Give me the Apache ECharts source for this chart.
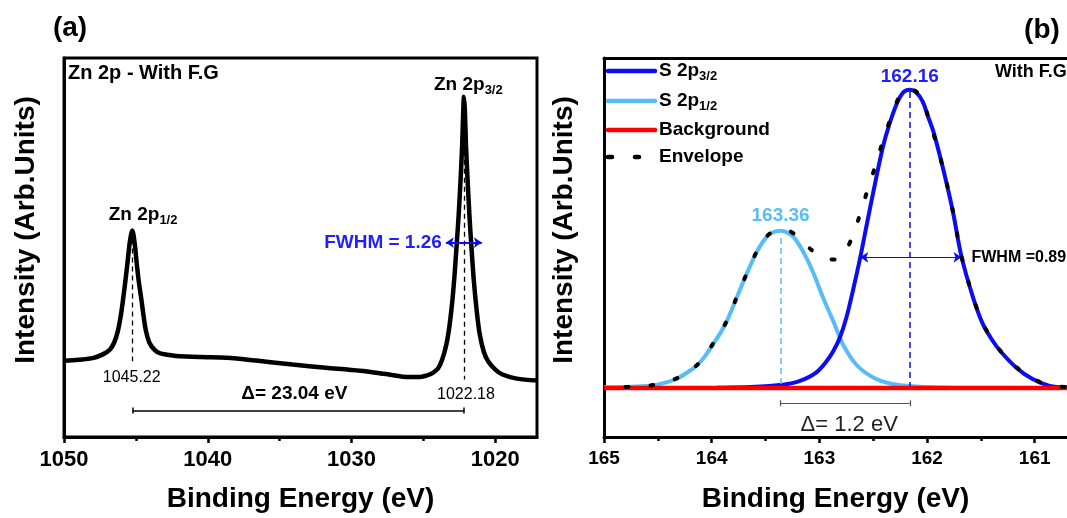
<!DOCTYPE html>
<html><head><meta charset="utf-8">
<script src="https://cdn.jsdelivr.net/npm/echarts@6/dist/echarts.min.js"></script>
<style>html,body{margin:0;padding:0;background:#fff}#c{width:1067px;height:518px}</style>
</head><body><div id="c"></div>
<script>
// ---------- Panel (a): Zn 2p spectrum [binding energy (eV), intensity (a.u.)] ----------
const znSpectrum = [
  [1050.0, 20.1],[1049.0, 20.4],[1048.0, 20.8],[1047.3, 21.8],[1046.8, 23.1],[1046.5, 25.0],
  [1046.25, 28.0],[1046.05, 32.0],[1045.88, 36.6],[1045.72, 41.5],[1045.56, 46.8],[1045.42, 51.5],
  [1045.25, 54.5],[1045.08, 51.0],[1044.93, 45.4],[1044.78, 40.5],[1044.63, 36.6],[1044.46, 31.8],
  [1044.3, 28.0],[1044.05, 24.8],[1043.7, 23.0],[1043.33, 22.1],[1042.8, 21.7],[1042.2, 21.4],
  [1040.5, 21.1],[1038.7, 20.9],[1036.5, 20.1],[1034.1, 19.1],[1031.8, 18.3],[1029.4, 17.5],
  [1027.6, 16.6],[1026.0, 15.8],[1025.3, 15.8],[1024.8, 16.2],[1024.4, 16.8],[1024.0, 18.0],
  [1023.7, 20.4],[1023.4, 24.5],[1023.2, 29.0],[1023.0, 35.5],[1022.85, 42.0],[1022.7, 50.0],
  [1022.55, 58.5],[1022.42, 67.5],[1022.3, 77.5],[1022.23, 86.0],[1022.18, 89.8],[1022.12, 86.5],
  [1022.04, 77.0],[1021.93, 68.0],[1021.8, 58.5],[1021.65, 49.5],[1021.5, 41.5],[1021.3, 33.5],
  [1021.1, 27.5],[1020.8, 22.5],[1020.5, 20.0],[1020.0, 17.8],[1019.5, 16.5],[1018.5, 15.4],[1017.1, 14.9]
];
const znPeaks = [1045.22, 1022.18];
const znPeakHeights = [54.5, 89.8];
const znPeakFoot = [20.0, 15.2];
const znDeltaText = 'Δ= 23.04 eV';
const znFWHMText = 'FWHM = 1.26';
const znFWHMEnds = [1023.44, 1020.94];
const znFWHMLevel = 51.3;
const znRange = [1017.1, 1050];
const znTicks = [1050, 1040, 1030, 1020];
const znMinorTicks = [1045, 1035, 1025];

// ---------- Panel (b): S 2p fit ----------
const s2p32 = [
  [164.3, 12.9],[163.95, 13.0],[163.64, 13.2],[163.34, 13.8],[163.18, 14.8],[163.03, 17.0],
  [162.93, 20.1],[162.87, 22.7],[162.81, 26.2],[162.75, 31.4],[162.69, 38.4],[162.62, 47.4],
  [162.56, 56.0],[162.50, 64.5],[162.41, 76.5],[162.35, 82.5],[162.28, 88.0],[162.22, 90.9],
  [162.16, 91.6],[162.10, 90.9],[162.04, 88.5],[161.99, 84.5],[161.94, 80.5],[161.85, 70.7],
  [161.76, 59.5],[161.68, 47.6],[161.57, 36.6],[161.48, 29.7],[161.40, 25.8],[161.32, 22.7],
  [161.17, 18.3],[161.02, 15.3],[160.86, 13.5],[160.70, 13.1]
];
const s2p12 = [
  [165.0, 13.1],[164.8, 13.2],[164.57, 13.5],[164.45, 14.2],[164.33, 15.3],[164.24, 16.8],
  [164.14, 18.8],[164.06, 21.4],[163.99, 24.4],[163.92, 27.4],[163.86, 30.5],[163.77, 36.6],
  [163.68, 42.7],[163.58, 48.9],[163.49, 52.8],[163.43, 54.0],[163.36, 54.4],[163.30, 54.0],
  [163.24, 52.8],[163.15, 48.9],[163.06, 43.6],[162.97, 37.1],[162.87, 30.5],[162.78, 24.4],
  [162.66, 19.2],[162.50, 15.7],[162.32, 14.0],[162.1, 13.3],[161.94, 13.1],[161.6, 12.95],[161.0, 12.9]
];
const backgroundLine = [[165.0, 12.9],[160.7, 12.9]];
const envelope = [
  [164.8, 13.2],[164.57, 13.6],[164.33, 15.4],[164.14, 18.9],[163.99, 24.5],[163.86, 30.6],
  [163.77, 36.7],[163.68, 42.8],[163.58, 49.0],[163.49, 52.9],[163.40, 54.5],[163.30, 54.5],
  [163.20, 52.8],[163.07, 49.3],[162.95, 47.2],[162.85, 46.8],[162.77, 48.5],[162.70, 52.4],
  [162.62, 58.9],[162.55, 65.4],[162.48, 71.5],[162.41, 78.1],[162.33, 84.6],[162.24, 90.7],
  [162.16, 91.8],[162.07, 90.3],[161.99, 84.6],[161.85, 70.8],[161.76, 59.6],[161.68, 47.7],
  [161.57, 36.7],[161.48, 29.8],[161.32, 22.8],[161.17, 18.4],[161.02, 15.4],[160.86, 13.6],[160.70, 13.2]
];
const sPeaks = [162.16, 163.36];
const sPeakHeights = [91.0, 52.5];
const sBase = 12.9;
const sDeltaText = 'Δ= 1.2 eV';
const sFWHMText = 'FWHM =0.89';
const sFWHMEnds = [162.62, 161.68];
const sFWHMLevel = 47.4;
const sRange = [160.7, 165];
const sTicks = [165, 164, 163, 162, 161];
const sMinorTicks = [164.5, 163.5, 162.5, 161.5];
const legendNames = ['S 2p3/2', 'S 2p1/2', 'Background', 'Envelope'];

// ---------- styles ----------
const FONT = "'Liberation Sans', Arial, Helvetica, sans-serif";
const BLUE = '#0c0cf0';
const LBLUE = '#58bcf6';
const RED = '#ff0000';

const chart = echarts.init(document.getElementById('c'), null, {renderer: 'canvas'});

function xMain(grid, range, ticks, fontSize, name) {
  return {
    type: 'value', gridIndex: grid, inverse: true, min: range[0], max: range[1], position: 'bottom',
    axisLine: {show: true, onZero: false, lineStyle: {color: '#000', width: 3}},
    axisTick: {show: true, customValues: ticks, length: 6, inside: false, lineStyle: {color: '#000', width: 2.5}},
    axisLabel: {show: true, customValues: ticks, margin: 12, color: '#000', fontSize: fontSize, fontWeight: 'bold',
      fontFamily: FONT, formatter: v => String(v)},
    splitLine: {show: false},
    name: name, nameLocation: 'middle', nameGap: 48,
    nameTextStyle: {fontSize: 28, fontWeight: 'bold', color: '#000', fontFamily: FONT}
  };
}
function xMinor(grid, range, ticks) {
  return {
    type: 'value', gridIndex: grid, inverse: true, min: range[0], max: range[1], position: 'bottom',
    axisLine: {show: false, onZero: false},
    axisTick: {show: true, customValues: ticks, length: 4, lineStyle: {color: '#000', width: 2.5}},
    axisLabel: {show: false}, splitLine: {show: false}
  };
}
function yAx(grid) {
  return {
    type: 'value', gridIndex: grid, min: 0, max: 100,
    axisLine: {show: true, onZero: false, lineStyle: {color: '#000', width: 3}},
    axisTick: {show: false}, axisLabel: {show: false}, splitLine: {show: false}
  };
}
function ml(data, style, symbol) {
  return {silent: true, animation: false, symbol: symbol || 'none', symbolSize: 8,
    label: {show: false}, emphasis: {disabled: true}, lineStyle: style, data: data};
}
const seg = (a, b) => [{coord: a}, {coord: b}];

const option = {
  animation: false,
  backgroundColor: '#fff',
  grid: [
    {left: 64, top: 58, width: 473, height: 382, show: true, borderColor: '#000', borderWidth: 3, backgroundColor: 'transparent'},
    {left: 604, top: 58, width: 463, height: 382}
  ],
  xAxis: [
    xMain(0, znRange, znTicks, 22, 'Binding Energy (eV)'),
    xMinor(0, znRange, znMinorTicks),
    xMain(1, sRange, sTicks, 19, 'Binding Energy (eV)'),
    xMinor(1, sRange, sMinorTicks),
    {type: 'value', gridIndex: 1, inverse: true, min: sRange[0], max: sRange[1], position: 'top',
     axisLine: {show: true, onZero: false, lineStyle: {color: '#000', width: 3}},
     axisTick: {show: false}, axisLabel: {show: false}, splitLine: {show: false}}
  ],
  yAxis: [yAx(0), yAx(1)],
  series: [
    // panel (a)
    {name: 'Zn 2p', type: 'line', xAxisIndex: 0, yAxisIndex: 0, data: znSpectrum, smooth: 0.3,
     symbol: 'none', lineStyle: {color: '#000', width: 4.5}, z: 3},
    {name: 'aDash', type: 'line', xAxisIndex: 0, yAxisIndex: 0, data: [], z: 4,
     markLine: ml([
       seg([znPeaks[0], znPeakHeights[0]], [znPeaks[0], znPeakFoot[0]]),
       seg([znPeaks[1], znPeakHeights[1]], [znPeaks[1], znPeakFoot[1]])
     ], {color: '#000', width: 1.3, type: [5, 4]})},
    {name: 'aDelta', type: 'line', xAxisIndex: 0, yAxisIndex: 0, data: [], z: 4,
     markLine: ml([
       seg([znPeaks[0], 7.0], [znPeaks[1], 7.0]),
       seg([znPeaks[0], 6.2], [znPeaks[0], 7.8]),
       seg([znPeaks[1], 6.2], [znPeaks[1], 7.8])
     ], {color: '#000', width: 1.5, type: 'solid'})},
    {name: 'aFWHM', type: 'line', xAxisIndex: 0, yAxisIndex: 0, data: [], z: 5,
     markLine: ml([seg([znFWHMEnds[0], znFWHMLevel], [znFWHMEnds[1], znFWHMLevel])],
       {color: BLUE, width: 2, type: 'solid'}, ['arrow', 'arrow'])},
    // panel (b)
    {name: legendNames[1], type: 'line', xAxisIndex: 2, yAxisIndex: 1, data: s2p12, smooth: 0.3,
     symbol: 'none', color: LBLUE, lineStyle: {color: LBLUE, width: 4}, z: 3},
    {name: legendNames[0], type: 'line', xAxisIndex: 2, yAxisIndex: 1, data: s2p32, smooth: 0.3,
     symbol: 'none', color: BLUE, lineStyle: {color: BLUE, width: 4}, z: 4},
    {name: legendNames[2], type: 'line', xAxisIndex: 2, yAxisIndex: 1, data: backgroundLine,
     symbol: 'none', color: RED, lineStyle: {color: RED, width: 4.5}, z: 5},
    {name: legendNames[3], type: 'line', xAxisIndex: 2, yAxisIndex: 1, data: envelope, smooth: 0.3,
     symbol: 'none', color: '#000', lineStyle: {color: '#000', width: 4, type: [3, 22], cap: 'round'}, z: 6},
    {name: 'bDash1', type: 'line', xAxisIndex: 2, yAxisIndex: 1, data: [], z: 7,
     markLine: ml([seg([sPeaks[0], sPeakHeights[0]], [sPeaks[0], sBase])], {color: BLUE, width: 1.5, type: [6, 4]})},
    {name: 'bDash2', type: 'line', xAxisIndex: 2, yAxisIndex: 1, data: [], z: 7,
     markLine: ml([seg([sPeaks[1], sPeakHeights[1]], [sPeaks[1], sBase])], {color: LBLUE, width: 1.5, type: [6, 4]})},
    {name: 'bFWHM', type: 'line', xAxisIndex: 2, yAxisIndex: 1, data: [], z: 7,
     markLine: ml([seg([sFWHMEnds[0], sFWHMLevel], [sFWHMEnds[1], sFWHMLevel])],
       {color: BLUE, width: 1.2, type: 'solid'}, ['arrow', 'arrow'])},
    {name: 'bDelta', type: 'line', xAxisIndex: 2, yAxisIndex: 1, data: [], z: 7,
     markLine: ml([
       seg([sPeaks[1], 8.9], [sPeaks[0], 8.9]),
       seg([sPeaks[1], 8.1], [sPeaks[1], 9.7]),
       seg([sPeaks[0], 8.1], [sPeaks[0], 9.7])
     ], {color: '#555', width: 1.2, type: 'solid'})}
  ]
};
chart.setOption(option);

// ---------- text annotations & legend ----------
const pa = v => chart.convertToPixel({seriesIndex: 0}, v);
const pb = v => chart.convertToPixel({seriesIndex: 4}, v);
function txt(x, y, text, o) {
  return {type: 'text', x: x, y: y, silent: true, z: 100, rotation: o.rotation || 0,
    style: Object.assign({text: text, fontFamily: FONT, fill: '#000', align: 'center', verticalAlign: 'middle'}, o.style)};
}
const subRich = {
  m: {fontSize: 19, fontWeight: 'bold', fontFamily: FONT, fill: '#000', lineHeight: 24, verticalAlign: 'middle'},
  s: {fontSize: 13, fontWeight: 'bold', fontFamily: FONT, fill: '#000', lineHeight: 12, verticalAlign: 'bottom'}
};
const g = [];
// panel labels
g.push(txt(70, 28, '(a)', {style: {fontSize: 28, fontWeight: 'bold'}}));
g.push(txt(1042, 30, '(b)', {style: {fontSize: 28, fontWeight: 'bold'}}));
// y titles
g.push(txt(26, 230, 'Intensity (Arb.Units)', {rotation: Math.PI / 2, style: {fontSize: 28, fontWeight: 'bold'}}));
g.push(txt(564, 230, 'Intensity (Arb.Units)', {rotation: Math.PI / 2, style: {fontSize: 28, fontWeight: 'bold'}}));
// panel a texts
g.push(txt(68, 73, 'Zn 2p - With F.G', {style: {fontSize: 20, fontWeight: 'bold', align: 'left'}}));
let p = pa([znPeaks[0], znPeakHeights[0]]);
g.push(txt(p[0] - 24, p[1] - 16, '{m|Zn 2p}{s|1/2}', {style: {align: 'left', rich: subRich}}));
p = pa([znPeaks[1], znPeakHeights[1]]);
g.push(txt(p[0] - 30, p[1] - 12, '{m|Zn 2p}{s|3/2}', {style: {align: 'left', rich: subRich}}));
p = pa([znPeaks[0], 15.7]);
g.push(txt(p[0] - 1, p[1], znPeaks[0].toFixed(2), {style: {fontSize: 16}}));
p = pa([znPeaks[1], 11.3]);
g.push(txt(p[0] + 2, p[1], znPeaks[1].toFixed(2), {style: {fontSize: 16}}));
p = pa([(znPeaks[0] + znPeaks[1]) / 2, 11.3]);
g.push(txt(p[0] - 4, p[1], znDeltaText, {style: {fontSize: 19, fontWeight: 'bold'}}));
p = pa([znFWHMEnds[0], znFWHMLevel]);
g.push(txt(p[0] - 4, p[1], znFWHMText, {style: {fontSize: 19, fontWeight: 'bold', fill: '#1f1fff', align: 'right'}}));
// panel b texts
p = pb([sPeaks[0], 95]);
g.push(txt(p[0], p[1], sPeaks[0].toFixed(2), {style: {fontSize: 19, fontWeight: 'bold', fill: '#1f1ff5'}}));
p = pb([sPeaks[1], 58.4]);
g.push(txt(p[0], p[1], sPeaks[1].toFixed(2), {style: {fontSize: 19, fontWeight: 'bold', fill: LBLUE}}));
p = pb([sFWHMEnds[1], sFWHMLevel]);
g.push(txt(p[0] + 10, p[1], sFWHMText, {style: {fontSize: 16, fontWeight: 'bold', align: 'left'}}));
p = pb([(sPeaks[0] + sPeaks[1]) / 2, 3.2]);
g.push(txt(p[0] + 4, p[1], sDeltaText, {style: {fontSize: 22, fill: '#222'}}));
g.push(txt(995, 72, 'With F.G', {style: {fontSize: 18, fontWeight: 'bold', align: 'left'}}));

// legend (panel b, top-left)
const legRows = [71, 101, 130, 157];
const legStyles = [
  {stroke: BLUE, lineWidth: 4.5},
  {stroke: LBLUE, lineWidth: 4.5},
  {stroke: RED, lineWidth: 4.5},
  {stroke: '#000', lineWidth: 4.5, lineDash: [4, 23], lineCap: 'round'}
];
const legLabels = ['{m|S 2p}{s|3/2}', '{m|S 2p}{s|1/2}', '{m|Background}', '{m|Envelope}'];
legRows.forEach((y, i) => {
  g.push({type: 'line', silent: true, z: 100, shape: {x1: 608, y1: y, x2: 655, y2: y},
    style: Object.assign({lineCap: 'round'}, legStyles[i])});
  g.push(txt(659, y, legLabels[i], {style: {align: 'left', rich: subRich}}));
});

chart.setOption({graphic: g});
</script>
</body></html>
